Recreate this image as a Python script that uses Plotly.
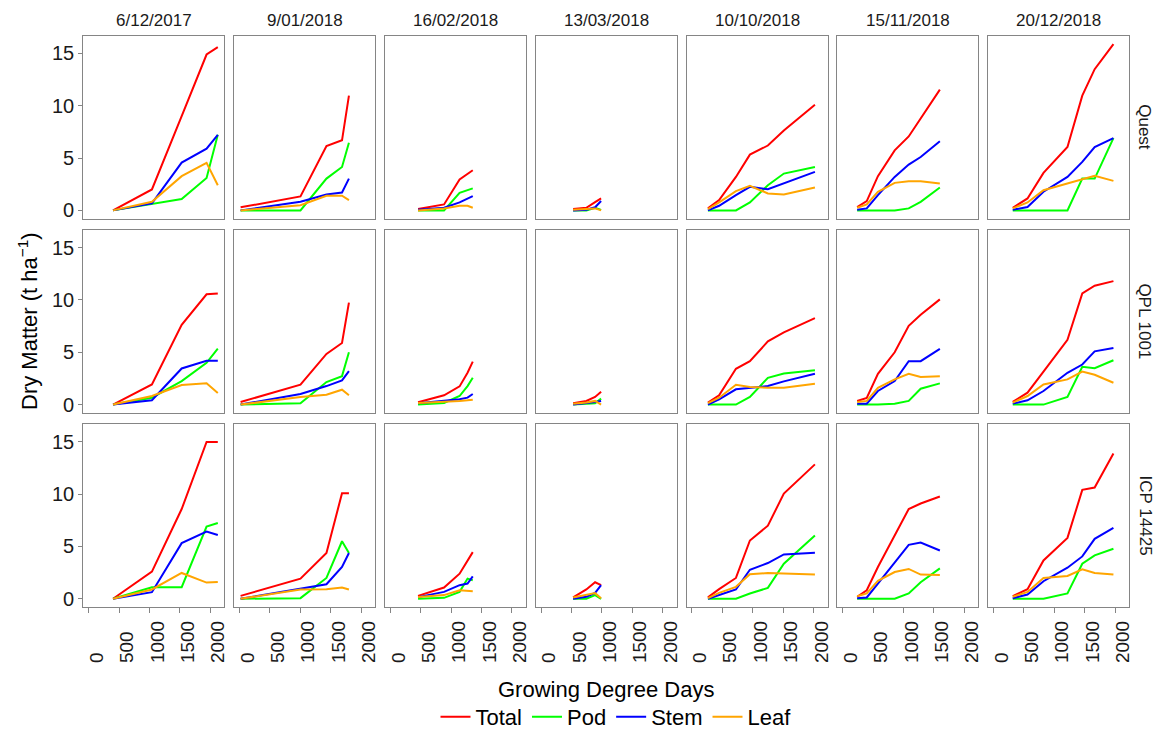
import plotly.graph_objects as go

# ---------------- data ----------------
sowing_dates = ["6/12/2017", "9/01/2018", "16/02/2018", "13/03/2018",
                "10/10/2018", "15/11/2018", "20/12/2018"]
cultivars = ["Quest", "QPL 1001", "ICP 14425"]
components = ["Total", "Pod", "Stem", "Leaf"]
comp_colors = ["#FF0000", "#00FF00", "#0000FF", "#FFA500"]

# growing degree days of each harvest, per sowing date
gdd = [
    [400, 1040, 1530, 1940, 2125],
    [17, 1003, 1431, 1687, 1801],
    [456, 884, 1140, 1271, 1357],
    [526, 744, 888, 987],
    [263, 447, 724, 954, 1250, 1513, 2025],
    [237, 395, 579, 855, 1086, 1283, 1599],
    [316, 559, 822, 1217, 1461, 1665, 1974],
]

quest_total = [
    [0, 2.0, 9.0, 14.9, 15.6],
    [0.29, 1.33, 6.15, 6.7, 10.97],
    [0.13, 0.57, 2.95, 3.52, 3.84],
    [0.13, 0.25, 0.79, 1.14],
    [0.19, 0.98, 3.2, 5.33, 6.2, 7.64, 10.09],
    [0.32, 0.89, 3.27, 5.74, 7.07, 8.75, 11.54],
    [0.25, 1.14, 3.58, 6.06, 10.97, 13.5, 15.9],
]
quest_pod = [
    [0, 0.6, 1.08, 3.1, 7.23],
    [0, 0, 3.04, 4.15, 6.47],
    [0, 0, 1.68, 1.93, 2.1],
    [0, 0, 0.25, 0.05],
    [0, 0, 0, 0.76, 2.41, 3.52, 4.15],
    [0, 0, 0, 0, 0.19, 0.82, 2.19],
    [0, 0, 0, 0, 3.04, 3.04, 6.91],
]
quest_stem = [
    [0, 0.67, 4.57, 5.9, 7.23],
    [0, 0.82, 1.52, 1.71, 3.04],
    [0.06, 0.25, 0.76, 1.14, 1.36],
    [0, 0.06, 0.3, 0.89],
    [0, 0.44, 1.46, 2.25, 2.03, 2.57, 3.68],
    [0.06, 0.19, 1.46, 3.2, 4.38, 5.1, 6.6],
    [0.06, 0.32, 1.78, 3.2, 4.63, 6.06, 6.91],
]
quest_leaf = [
    [0, 0.82, 3.27, 4.54, 2.4],
    [0, 0.5, 1.4, 1.4, 0.98],
    [0, 0.19, 0.44, 0.44, 0.25],
    [0.06, 0.13, 0.19, 0],
    [0.13, 0.76, 1.84, 2.35, 1.62, 1.52, 2.19],
    [0.25, 0.57, 1.78, 2.63, 2.79, 2.79, 2.57],
    [0.19, 0.76, 1.93, 2.57, 3.04, 3.3, 2.82],
]

qpl_total = [
    [0, 1.93, 7.63, 10.54, 10.63],
    [0.25, 1.9, 4.84, 5.89, 9.75],
    [0.22, 0.89, 1.74, 3.04, 4.11],
    [0.13, 0.35, 0.73, 1.23],
    [0.19, 0.89, 3.42, 4.15, 6.04, 6.9, 8.26],
    [0.35, 0.63, 2.94, 5.0, 7.53, 8.58, 10.06],
    [0.25, 1.14, 3.16, 6.2, 10.63, 11.36, 11.8],
]
qpl_pod = [
    [0, 0.66, 2.25, 3.99, 5.35],
    [0, 0.13, 2.15, 2.72, 5.0],
    [0, 0.16, 0.82, 1.77, 2.56],
    [0, 0.06, 0.13, 0.57],
    [0, 0, 0, 0.73, 2.56, 2.97, 3.29],
    [0, 0, 0, 0.09, 0.35, 1.52, 2.03],
    [0, 0, 0, 0.73, 3.61, 3.48, 4.24],
]
qpl_stem = [
    [0, 0.41, 3.45, 4.18, 4.18],
    [0, 1.01, 1.77, 2.31, 3.2],
    [0.13, 0.35, 0.51, 0.66, 1.01],
    [0, 0.13, 0.25, 0.35],
    [0, 0.51, 1.46, 1.61, 1.77, 2.22, 2.94],
    [0.09, 0.09, 1.3, 2.25, 4.15, 4.15, 5.32],
    [0.09, 0.41, 1.3, 3.04, 3.83, 5.09, 5.41],
]
qpl_leaf = [
    [0, 0.82, 1.87, 2.03, 1.11],
    [0, 0.73, 0.95, 1.42, 0.89],
    [0.16, 0.25, 0.35, 0.41, 0.47],
    [0.09, 0.19, 0.35, 0],
    [0.13, 0.66, 1.9, 1.68, 1.61, 1.61, 1.99],
    [0.25, 0.35, 1.61, 2.41, 2.94, 2.63, 2.72],
    [0.19, 0.82, 1.93, 2.41, 3.16, 2.85, 2.09],
]

icp_total = [
    [0, 2.59, 8.58, 15.0, 15.0],
    [0.28, 1.93, 4.37, 10.09, 10.09],
    [0.28, 1.08, 2.4, 3.67, 4.46],
    [0.13, 0.89, 1.58, 1.3],
    [0.13, 0.92, 1.99, 5.57, 6.99, 10.06, 12.85],
    [0.19, 0.82, 3.04, 6.14, 8.58, 9.11, 9.78],
    [0.25, 0.92, 3.67, 5.82, 10.41, 10.63, 13.89],
]
icp_pod = [
    [0, 1.11, 1.11, 6.9, 7.25],
    [0, 0.06, 1.99, 5.5, 4.37],
    [0, 0.09, 0.66, 1.93, 1.77],
    [0, 0, 0.35, 0],
    [0, 0, 0, 0.51, 1.04, 3.35, 6.04],
    [0, 0, 0, 0, 0.51, 1.58, 2.91],
    [0, 0, 0, 0.51, 3.35, 4.15, 4.78],
]
icp_stem = [
    [0, 0.63, 5.32, 6.42, 6.1],
    [0, 0.95, 1.39, 3.04, 4.37],
    [0.16, 0.66, 1.3, 1.46, 2.15],
    [0, 0.19, 0.57, 1.3],
    [0, 0.35, 0.89, 2.78, 3.42, 4.24, 4.4],
    [0.06, 0.13, 1.46, 3.51, 5.16, 5.38, 4.62],
    [0.06, 0.41, 1.68, 2.97, 4.05, 5.73, 6.77],
]
icp_leaf = [
    [0, 0.89, 2.47, 1.55, 1.61],
    [0, 0.89, 0.92, 1.08, 0.89],
    [0.16, 0.35, 0.82, 0.73, 0.73],
    [0.13, 0.41, 0.54, 0.06],
    [0.06, 0.57, 1.14, 2.34, 2.47, 2.41, 2.31],
    [0.25, 0.51, 1.71, 2.56, 2.85, 2.31, 2.28],
    [0.19, 0.66, 1.99, 2.18, 2.82, 2.47, 2.31],
]

x_ticks = [0, 500, 1000, 1500, 2000]
x_tick_labels = ["0", "500", "1000", "1500", "2000"]
y_ticks = [0, 5, 10, 15]
y_tick_labels = ["0", "5", "10", "15"]

series = {
    "Quest": [quest_total, quest_pod, quest_stem, quest_leaf],
    "QPL 1001": [qpl_total, qpl_pod, qpl_stem, qpl_leaf],
    "ICP 14425": [icp_total, icp_pod, icp_stem, icp_leaf],
}

# ---------------- layout geometry (pixels) ----------------
W, H = 1155, 735
FONT = "Liberation Sans, Arial, sans-serif"
col_left0, col_w, col_step = 83.3, 141.0, 150.8
row_top0, row_h, row_step = 35.7, 183.0, 194.2
border_col = "#858585"
x_range = [-90, 2232]
y_range = [-0.795, 16.7]

# pad tick labels so that rotated labels align at their start (like ggplot)
def pad(lbl, n=4):
    return lbl + "\u00a0" * (2 * (n - len(lbl)))

fig = go.Figure()
layout = {}
for r, cv in enumerate(cultivars):
    for c, sd in enumerate(sowing_dates):
        idx = r * 7 + c + 1
        sfx = "" if idx == 1 else str(idx)
        for k, comp in enumerate(components):
            fig.add_trace(go.Scatter(
                x=gdd[c], y=series[cv][k][c], mode="lines",
                line=dict(color=comp_colors[k], width=2),
                name=comp, legendgroup=comp, showlegend=(idx == 1),
                xaxis="x" + sfx, yaxis="y" + sfx, hoverinfo="skip"))
        x0 = (col_left0 + c * col_step) / W
        x1 = (col_left0 + c * col_step + col_w) / W
        yt = row_top0 + r * row_step
        y1 = 1 - yt / H
        y0 = 1 - (yt + row_h) / H
        bottom = (r == 2)
        left = (c == 0)
        layout["xaxis" + sfx] = dict(
            domain=[x0, x1], range=x_range, anchor="y" + sfx,
            showgrid=False, zeroline=False, showline=True, mirror=True,
            linecolor=border_col, linewidth=1.3,
            tickmode="array", tickvals=x_ticks,
            ticktext=[pad(t) for t in x_tick_labels],
            ticks="outside" if bottom else "", ticklen=5, tickcolor=border_col,
            tickwidth=1.3,
            showticklabels=bottom, tickangle=-90, ticklabelshift=8,
            tickfont=dict(family=FONT, size=19, color="#1a1a1a"))
        layout["yaxis" + sfx] = dict(
            domain=[y0, y1], range=y_range, anchor="x" + sfx,
            showgrid=False, zeroline=False, showline=True, mirror=True,
            linecolor=border_col, linewidth=1.3,
            tickmode="array", tickvals=y_ticks, ticktext=y_tick_labels,
            ticks="outside" if left else "", ticklen=4, tickcolor=border_col,
            tickwidth=1.3,
            showticklabels=left,
            tickfont=dict(family=FONT, size=20, color="#1a1a1a"))

annotations = []
for c, sd in enumerate(sowing_dates):
    cx = (col_left0 + c * col_step + col_w / 2) / W
    annotations.append(dict(text=sd, x=cx, y=1 - 20.5 / H, xref="paper", yref="paper",
                            xanchor="center", yanchor="middle", showarrow=False,
                            font=dict(family=FONT, size=17, color="#1a1a1a")))
for r, cv in enumerate(cultivars):
    cy = 1 - (row_top0 + r * row_step + row_h / 2) / H
    annotations.append(dict(text=cv, x=1145 / W, y=cy, xref="paper", yref="paper",
                            xanchor="center", yanchor="middle", textangle=90,
                            showarrow=False,
                            font=dict(family=FONT, size=17, color="#1a1a1a")))
annotations.append(dict(text="Growing Degree Days", x=606 / W, y=1 - 689 / H,
                        xref="paper", yref="paper", xanchor="center", yanchor="middle",
                        showarrow=False, font=dict(family=FONT, size=22, color="#000")))
annotations.append(dict(text="Dry Matter (t ha<sup>\u22121</sup>)", x=28 / W,
                        y=1 - 321 / H, xref="paper", yref="paper", xanchor="center",
                        yanchor="middle", textangle=-90, showarrow=False,
                        font=dict(family=FONT, size=22, color="#000")))

fig.update_layout(
    width=W, height=H,
    margin=dict(l=0, r=0, t=0, b=0, autoexpand=False),
    paper_bgcolor="white", plot_bgcolor="white",
    font=dict(family=FONT, color="#000"),
    showlegend=True,
    legend=dict(orientation="h", x=616 / W, xanchor="center", y=-0.004, yanchor="bottom",
                font=dict(family=FONT, size=22, color="#000"),
                bgcolor="rgba(0,0,0,0)", traceorder="normal"),
    annotations=annotations,
    **layout,
)

fig.write_html("out.html")
